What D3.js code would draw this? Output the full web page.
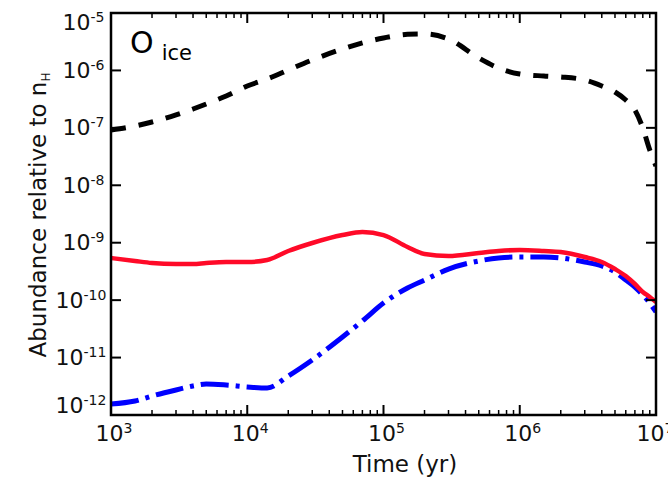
<!DOCTYPE html>
<html>
<head>
<meta charset="utf-8">
<script src="https://cdn.jsdelivr.net/npm/d3@7"></script>
<style>
  html, body { margin: 0; padding: 0; background: #fff; }
  svg { display: block; font-family: "DejaVu Sans", sans-serif; }
</style>
</head>
<body>
<svg id="chart" width="668" height="480"></svg>
<script>
// ---- data ----
const times = [1e3, 1.5e3, 2e3, 3e3, 4e3, 5e3, 7e3, 1e4, 1.4e4, 2e4, 3e4, 5e4, 7e4,
  1e5, 1.5e5, 2e5, 3e5, 5e5, 7e5, 1e6, 1.5e6, 2e6, 3e6, 4e6, 5e6, 6e6, 7e6, 8e6, 9e6, 1e7];

const blackDashed = [9.18e-8, 1.076e-7, 1.265e-7, 1.675e-7, 2.13e-7, 2.6e-7, 3.59e-7, 5.36e-7, 7.1e-7,
  1.016e-6, 1.52e-6, 2.36e-6, 3.01e-6, 3.67e-6, 4.25e-6, 4.31e-6, 3.52e-6, 1.644e-6, 1.1e-6,
  8.67e-7, 8.0e-7, 7.69e-7, 6.81e-7, 5.36e-7, 4.21e-7, 3.05e-7, 2.05e-7, 9.95e-8, 4.12e-8, 2.17e-8];

const redSolid = [5.42e-10, 4.81e-10, 4.44e-10, 4.27e-10, 4.27e-10, 4.44e-10, 4.61e-10, 4.61e-10, 5.0e-10,
  7.18e-10, 9.89e-10, 1.36e-9, 1.54e-9, 1.36e-9, 8.43e-10, 6.37e-10, 5.87e-10, 6.62e-10, 7.18e-10,
  7.46e-10, 7.18e-10, 6.89e-10, 5.64e-10, 4.61e-10, 3.48e-10, 2.63e-10, 1.91e-10, 1.39e-10, 1.135e-10, 9.29e-11];

const blueDashDot = [1.556e-12, 1.754e-12, 2.14e-12, 2.73e-12, 3.2e-12, 3.47e-12, 3.33e-12, 3.08e-12, 2.95e-12,
  4.78e-12, 9.08e-12, 2.28e-11, 4.34e-11, 8.91e-11, 1.63e-10, 2.24e-10, 3.48e-10, 4.81e-10, 5.42e-10,
  5.64e-10, 5.64e-10, 5.42e-10, 4.61e-10, 3.94e-10, 3.09e-10, 2.24e-10, 1.69e-10, 1.23e-10, 8.91e-11, 6.22e-11];

const xTickExps = [3, 4, 5, 6, 7];
const yTickExps = [-5, -6, -7, -8, -9, -10, -11, -12];
const xLabel = "Time (yr)";
const yLabel = "Abundance relative to n";
const yLabelSub = "H";
const panelMain = "O";
const panelSub = "ice";

// ---- layout ----
const L = 111, R = 656, T = 13, B = 415;
const svg = d3.select("#chart");
const x = d3.scaleLog().domain([1e3, 1e7]).range([L, R]);
const y = d3.scaleLog().domain([1e-12, 1e-5]).range([B, T]);

svg.append("defs").append("clipPath").attr("id", "clip")
  .append("rect").attr("x", L).attr("y", T).attr("width", R - L).attr("height", B - T);

const plot = svg.append("g").attr("clip-path", "url(#clip)");
const line = d3.line().x((d, i) => x(times[i])).y(d => y(d)).curve(d3.curveMonotoneX);

plot.append("path").datum(blackDashed).attr("d", line)
  .attr("fill", "none").attr("stroke", "#000").attr("stroke-width", 5)
  .attr("stroke-dasharray", "15,13");
plot.append("path").datum(blueDashDot).attr("d", line)
  .attr("fill", "none").attr("stroke", "#0000ff").attr("stroke-width", 5)
  .attr("stroke-dasharray", "28,7,4,7");
plot.append("path").datum(redSolid).attr("d", line)
  .attr("fill", "none").attr("stroke", "#ff0a28").attr("stroke-width", 4.5);

// ---- ticks ----
const tg = svg.append("g").attr("stroke", "#000");
const xMinor = [];
for (let e = 3; e < 7; e++) for (let m = 2; m <= 9; m++) xMinor.push(m * Math.pow(10, e));
xTickExps.forEach(e => {
  const px = x(Math.pow(10, e));
  tg.append("line").attr("x1", px).attr("x2", px).attr("y1", B).attr("y2", B - 10).attr("stroke-width", 2);
  tg.append("line").attr("x1", px).attr("x2", px).attr("y1", T).attr("y2", T + 10).attr("stroke-width", 2);
});
xMinor.forEach(v => {
  const px = x(v);
  tg.append("line").attr("x1", px).attr("x2", px).attr("y1", B).attr("y2", B - 5).attr("stroke-width", 1.5);
  tg.append("line").attr("x1", px).attr("x2", px).attr("y1", T).attr("y2", T + 5).attr("stroke-width", 1.5);
});
yTickExps.forEach(e => {
  const py = y(Math.pow(10, e));
  tg.append("line").attr("x1", L).attr("x2", L + 10).attr("y1", py).attr("y2", py).attr("stroke-width", 2);
  tg.append("line").attr("x1", R).attr("x2", R - 10).attr("y1", py).attr("y2", py).attr("stroke-width", 2);
});

// frame
svg.append("rect").attr("x", L).attr("y", T).attr("width", R - L).attr("height", B - T)
  .attr("fill", "none").attr("stroke", "#000").attr("stroke-width", 2.5);

// ---- tick labels ----
const fs = 22, sfs = 14;
xTickExps.forEach(e => {
  const shift = e === 7 ? -1 : 3;
  const t = svg.append("text").attr("x", x(Math.pow(10, e)) + shift).attr("y", 441)
    .attr("text-anchor", "middle").attr("font-size", fs).attr("fill", "#111");
  t.append("tspan").text("10");
  t.append("tspan").attr("font-size", sfs).attr("dy", -8).text(String(e));
});
yTickExps.forEach(e => {
  let py = y(Math.pow(10, e)) + 7.5;
  if (e === -5) py = 30;
  if (e === -12) py = 413;
  const xs = e >= -9 ? 62.5 : 55.5;
  const t = svg.append("text").attr("x", xs).attr("y", py)
    .attr("font-size", fs).attr("fill", "#111");
  t.append("tspan").text("10");
  t.append("tspan").attr("font-size", sfs).attr("dy", -8).text(String(e));
});

// ---- axis labels ----
svg.append("text").attr("x", 405).attr("y", 472).attr("text-anchor", "middle")
  .attr("font-size", 23).attr("fill", "#111").text(xLabel);

const yl = svg.append("text").attr("transform", "translate(46,215) rotate(-90)")
  .attr("text-anchor", "middle").attr("font-size", 23).attr("fill", "#111");
yl.append("tspan").text(yLabel);
yl.append("tspan").attr("font-size", 12).attr("dy", 4).text(yLabelSub);

// ---- panel label ----
const pl = svg.append("text").attr("x", 130).attr("y", 53).attr("fill", "#000");
pl.append("tspan").attr("font-size", 30).text(panelMain);
pl.append("tspan").attr("font-size", 21).attr("dx", 8).attr("dy", 7).text(panelSub);
</script>
</body>
</html>
